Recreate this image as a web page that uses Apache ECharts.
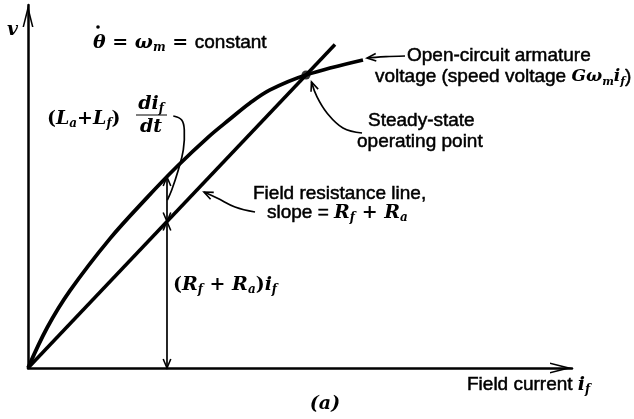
<!DOCTYPE html>
<html><head><meta charset="utf-8">
<script src="https://cdn.jsdelivr.net/npm/echarts@6/dist/echarts.min.js"></script>
<style>html,body{margin:0;padding:0;background:#fff}#c{width:634px;height:419px}</style>
</head><body><div id="c"></div>
<script>
// Magnetization (open-circuit) curve: field current vs voltage (arbitrary units 0..100)
const curveIf = [0, 3.49, 7.72, 15.07, 21.88, 27.39, 33.09, 37.13, 40.81, 44.49, 51.10, 61.58];
const curveV  = [0, 11.02, 21.30, 35.65, 46.94, 55.51, 63.55, 68.57, 73.00, 76.61, 80.72, 84.85];
// Field resistance line
const lineIf = [0, 56.43];
const lineV  = [0, 89.14];
// Steady-state operating point
const opPoint = [51.10, 80.72];
// Dimension arrows (vertical) at this field current
const dimIf = 25.55;
const dimLevels = [0, 40.36, 52.6];
// Leader lines of the annotations (data coordinates)
const leaderOpenCircuit = [[69.3, 85.95], [65.8, 85.8], [62.32, 85.4]];
const leaderSteady = [[61.4, 64.74], [57.9, 66.12], [54.96, 70.25], [53.13, 74.66], [52.11, 78.79]];
const leaderResistance = [[41.73, 42.98], [38.05, 44.35], [34.74, 46.83], [32.35, 48.48]];
const leaderInductance = [[26.71, 69.42], [28.25, 68.32], [28.73, 65.56], [28.55, 60.06], [27.63, 54.55], [26.42, 49.04], [25.61, 46.28]];

const leaders = [
  {pts: leaderOpenCircuit, head: 'end', smooth: 0.3},
  {pts: leaderSteady, head: 'end', smooth: 0.4},
  {pts: leaderResistance, head: 'end', smooth: 0.4},
  {pts: leaderInductance, head: 'none', smooth: 0.4},
  {pts: [[dimIf, dimLevels[0]], [dimIf, dimLevels[1]]], head: 'both', smooth: 0},
  {pts: [[dimIf, dimLevels[1]], [dimIf, dimLevels[2]]], head: 'both', smooth: 0}
];

function arrowHead(tip, from) {
  const dx = tip[0] - from[0], dy = tip[1] - from[1];
  const len = Math.hypot(dx, dy) || 1;
  const ux = dx / len, uy = dy / len;
  const L = 9, W = 3.8;
  const bx = tip[0] - ux * L, by = tip[1] - uy * L;
  return {type: 'polyline', shape: {points: [[bx - uy * W, by + ux * W], tip, [bx + uy * W, by - ux * W]]},
    style: {stroke: '#000', lineWidth: 1.6, fill: null}};
}
function renderItem(params, api) {
  const Ld = leaders[api.value(0)];
  const pts = Ld.pts.map(p => api.coord(p));
  const children = [{type: 'polyline', shape: {points: pts, smooth: Ld.smooth}, style: {stroke: '#000', lineWidth: 1.7, fill: null}}];
  const n = pts.length;
  if (Ld.head === 'end' || Ld.head === 'both') children.push(arrowHead(pts[n - 1], pts[n - 2]));
  if (Ld.head === 'start' || Ld.head === 'both') children.push(arrowHead(pts[0], pts[1]));
  return {type: 'group', children};
}

const sans = "'Liberation Sans', Arial, sans-serif";
const serif = "'DejaVu Serif', 'Liberation Serif', serif";
const rich = {
  s: {fontFamily: sans, fontSize: 19, fill: '#000', stroke: '#000', lineWidth: 0.5},
  m: {fontFamily: serif, fontSize: 19, fontStyle: 'italic', fontWeight: 'bold', fill: '#000'},
  mv: {fontFamily: serif, fontSize: 17, fontStyle: 'italic', fontWeight: 'bold', fill: '#000'},
  u: {fontFamily: serif, fontSize: 19, fontWeight: 'bold', fill: '#000'},
  sub: {fontFamily: serif, fontSize: 12, fontStyle: 'italic', fontWeight: 'bold', fill: '#000', padding: [10, 0, 0, 0]},
  subv: {fontFamily: serif, fontSize: 11, fontStyle: 'italic', fontWeight: 'bold', fill: '#000', padding: [10, 0, 0, 0]}
};
function txt(x, y, text, align) {
  return {type: 'text', x: x, y: y, silent: true,
    style: {text: text, rich: rich, fill: '#000', font: '19px ' + sans, align: align || 'left', verticalAlign: 'middle'}};
}
const arrowPath = 'path://M5 0 L10 20 L8.6 20 L5 6 L1.4 20 L0 20 Z';

const chart = echarts.init(document.getElementById('c'), null, {renderer: 'canvas'});
chart.setOption({
  animation: false,
  backgroundColor: '#fff',
  grid: {left: 28, right: 62, top: 5, bottom: 51},
  xAxis: {type: 'value', min: 0, max: 100,
    axisLine: {show: true, symbol: ['none', arrowPath], symbolSize: [11, 22], symbolOffset: [0, -11], lineStyle: {color: '#000', width: 2.5}},
    axisTick: {show: false}, axisLabel: {show: false}, splitLine: {show: false}},
  yAxis: {type: 'value', min: 0, max: 100,
    axisLine: {show: true, symbol: ['none', arrowPath], symbolSize: [11, 22], symbolOffset: [0, -11], lineStyle: {color: '#000', width: 2.5}},
    axisTick: {show: false}, axisLabel: {show: false}, splitLine: {show: false}},
  series: [
    {type: 'line', data: curveIf.map((x, i) => [x, curveV[i]]), smooth: 0.35, symbol: 'none',
      lineStyle: {color: '#000', width: 3.8}, z: 3, silent: true},
    {type: 'line', data: lineIf.map((x, i) => [x, lineV[i]]), symbol: 'none',
      lineStyle: {color: '#000', width: 3.5}, z: 3, silent: true},
    {type: 'scatter', data: [opPoint], symbolSize: 9, itemStyle: {color: '#000'}, z: 5, silent: true},
    {type: 'custom', renderItem: renderItem, data: leaders.map((_, i) => [i]), clip: false, silent: true, z: 4}
  ],
  graphic: [
    txt(7, 30, '{m|v}'),
    txt(93, 43, '{m|θ}{u| = }{m|ω}{sub|m}{u| = }{s|constant}'),
    {type: 'circle', shape: {cx: 98, cy: 27, r: 1.8}, style: {fill: '#000'}, silent: true},
    txt(47, 119, '{u|(}{m|L}{sub|a}{u|+}{m|L}{sub|f}{u|)}'),
    txt(151, 104, '{m|di}{sub|f}', 'center'),
    {type: 'line', shape: {x1: 136, y1: 115, x2: 167, y2: 115}, style: {stroke: '#000', lineWidth: 1}, silent: true},
    txt(151, 127, '{m|dt}', 'center'),
    txt(173, 285, '{u|(}{m|R}{sub|f}{u| + }{m|R}{sub|a}{u|)}{m|i}{sub|f}'),
    txt(407, 56, '{s|Open-circuit armature}'),
    txt(375, 77, '{s|voltage (speed voltage }{mv|Gω}{subv|m}{mv|i}{subv|f}{s|)}'),
    txt(368, 121, '{s|Steady-state}'),
    txt(357, 142, '{s|operating point}'),
    txt(253, 194, '{s|Field resistance line,}'),
    txt(267, 213, '{s|slope = }{m|R}{sub|f}{u| + }{m|R}{sub|a}'),
    txt(467, 385, '{s|Field current }{m|i}{sub|f}'),
    txt(325, 404, '{m|(a)}', 'center')
  ]
});
</script></body></html>
